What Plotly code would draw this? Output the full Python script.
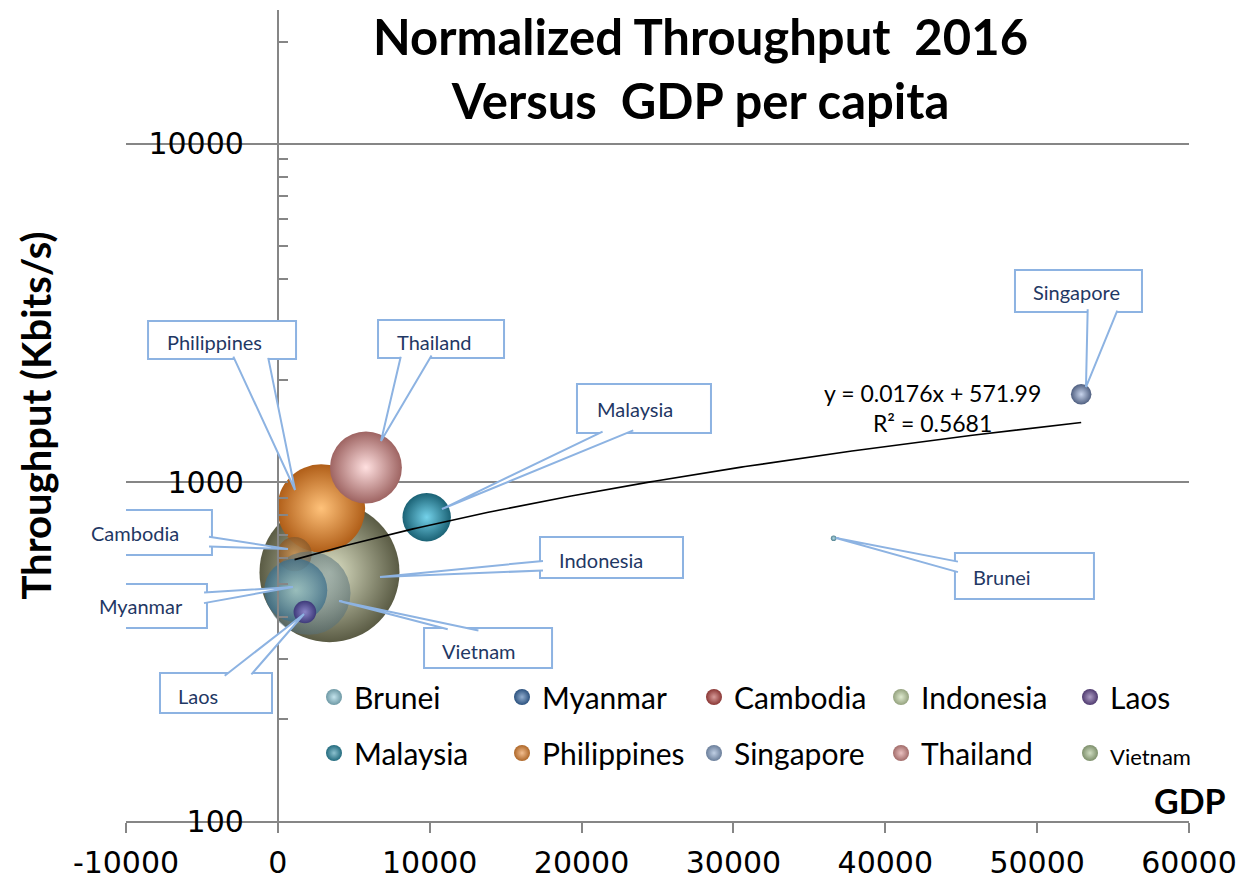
import math
import numpy as np
import plotly.graph_objects as go

# ---------------- data ----------------
countries = ["Brunei", "Myanmar", "Cambodia", "Indonesia", "Laos",
             "Malaysia", "Philippines", "Singapore", "Thailand", "Vietnam"]
gdp_per_capita = [36600, 1180, 1100, 3400, 1780, 9800, 2850, 52900, 5800, 2040]
throughput_kbps = [684, 480, 614, 543, 414, 789, 838, 1820, 1107, 471]
population_m = [0.42, 52.9, 15.8, 261.1, 6.8, 31.2, 103.3, 5.6, 68.9, 92.7]

trend_slope = 0.0176
trend_intercept = 571.99
trend_r2 = 0.5681

x_tick_values = [-10000, 0, 10000, 20000, 30000, 40000, 50000, 60000]
x_tick_labels = ["-10000", "0", "10000", "20000", "30000", "40000", "50000", "60000"]
y_tick_values = [100, 1000, 10000]
y_tick_labels = ["100", "1000", "10000"]
y_minor_ticks = [200, 300, 400, 500, 600, 700, 800, 900,
                 2000, 3000, 4000, 5000, 6000, 7000, 8000, 9000, 20000]

# ---------------- styles ----------------
legend_color = {
    "Brunei": "#93CDDD", "Myanmar": "#3A6DA8", "Cambodia": "#B84A47",
    "Indonesia": "#C6D9A8", "Laos": "#6A4E95", "Malaysia": "#2F8FA8",
    "Philippines": "#E88A36", "Singapore": "#8EA8CE", "Thailand": "#D9908E",
    "Vietnam": "#A8C090",
}
bubble_edge = {
    "Brunei": "#4E7F8E", "Myanmar": "#3C6E8A", "Cambodia": "#8A5A2A",
    "Indonesia": "#5A5B44", "Laos": "#3E3A7A", "Malaysia": "#1B6275",
    "Philippines": "#B05E18", "Singapore": "#4F5F80", "Thailand": "#9E6462",
    "Vietnam": "#56707A",
}
bubble_center = {
    "Brunei": "#B6DDE8", "Myanmar": "#9CC8C8", "Cambodia": "#C89050",
    "Indonesia": "#E0E4C8", "Laos": "#8A86C8", "Malaysia": "#74D2EA",
    "Philippines": "#FFC27A", "Singapore": "#C8D4EC", "Thailand": "#FFE0E0",
    "Vietnam": "#A0B6BA",
}
bubble_opacity = {
    "Brunei": 1, "Myanmar": 0.75, "Cambodia": 0.85, "Indonesia": 1, "Laos": 1,
    "Malaysia": 1, "Philippines": 1, "Singapore": 1, "Thailand": 1, "Vietnam": 0.55,
}
draw_order = ["Indonesia", "Philippines", "Thailand", "Cambodia", "Vietnam",
              "Myanmar", "Malaysia", "Laos", "Singapore", "Brunei"]

FONT = "Lato"
TICK_FONT = "DejaVu Sans"
AXIS_GRAY = "#868686"
CALLOUT_LINE = "#8DB3E2"
CALLOUT_TEXT = "#1F3864"

# page has an 8px body margin: figure sized so that it fills the 1247x885 window
PAGE = 8
W, H = 1247 - PAGE, 885 - PAGE
ML, MR, MT, MB = 126 - PAGE, 58, 10 - PAGE, 64
X_RANGE = [-10000, 60000]
Y_RANGE = [2, 4.395]
PW, PH = W - ML - MR, H - MT - MB

idx = {c: i for i, c in enumerate(countries)}


def to_px(xv, yv):
    px = ML + (xv - X_RANGE[0]) / (X_RANGE[1] - X_RANGE[0]) * PW
    py = MT + (Y_RANGE[1] - math.log10(yv)) / (Y_RANGE[1] - Y_RANGE[0]) * PH
    return px, py


def paper_x(page_x):
    return (page_x - PAGE - ML) / PW


def paper_y(page_y):
    return (MT + PH - (page_y - PAGE)) / PH


def lighten(hex_color, f):
    h = hex_color.lstrip("#")
    r, g, b = (int(h[i:i + 2], 16) for i in (0, 2, 4))
    r, g, b = (int(v + (255 - v) * f) for v in (r, g, b))
    return f"#{r:02X}{g:02X}{b:02X}"


def darken(hex_color, f):
    h = hex_color.lstrip("#")
    r, g, b = (int(h[i:i + 2], 16) for i in (0, 2, 4))
    r, g, b = (int(v * (1 - f)) for v in (r, g, b))
    return f"#{r:02X}{g:02X}{b:02X}"


fig = go.Figure()

max_diameter = 140
sizeref = 2 * max(population_m) / max_diameter ** 2

for c in draw_order:
    i = idx[c]
    fig.add_trace(go.Scatter(
        x=[gdp_per_capita[i]], y=[throughput_kbps[i]], mode="markers",
        name=c, showlegend=False,
        marker=dict(size=[population_m[i]], sizemode="area", sizeref=sizeref,
                    color=bubble_edge[c], opacity=bubble_opacity[c],
                    gradient=dict(type="radial", color=bubble_center[c]),
                    line=dict(width=0)),
        hovertemplate=c + "<br>GDP %{x}<br>Throughput %{y}<extra></extra>",
    ))

# trendline from the stated linear fit
x_line = np.linspace(min(gdp_per_capita), max(gdp_per_capita), 200)
y_line = trend_slope * x_line + trend_intercept
fig.add_trace(go.Scatter(x=x_line, y=y_line, mode="lines", showlegend=False,
                         line=dict(color="black", width=1.6), hoverinfo="skip"))

# legend entries: 5 columns x 2 rows
legend_names = ["legend", "legend2", "legend3", "legend4", "legend5"]
for k, c in enumerate(countries):
    label = c if c != "Vietnam" else '<span style="font-size:22px">Vietnam</span>'
    fig.add_trace(go.Scatter(
        x=[None], y=[None], mode="markers", name=label,
        legend=legend_names[k % 5], legendgroup=c,
        marker=dict(size=17, color=darken(legend_color[c], 0.25),
                    gradient=dict(type="radial", color=lighten(legend_color[c], 0.45)),
                    line=dict(width=0)),
    ))

legend_marker_x = [333, 521, 713, 900, 1089]   # page pixels of the legend columns
legend_row1_y = 698
legend_font = 30
legend_layouts = {}
for n, name in enumerate(legend_names):
    legend_layouts[name] = dict(
        orientation="v", traceorder="grouped", tracegroupgap=14,
        x=paper_x(legend_marker_x[n] - 19), y=paper_y(legend_row1_y - 27),
        xanchor="left", yanchor="top", bgcolor="rgba(0,0,0,0)", borderwidth=0,
        font=dict(family=FONT, size=legend_font, color="black"))

# ---------------- callouts ----------------
callouts = {
    "Philippines": dict(box=(148, 321, 296, 359), text=(214, 342), base=((235, 359), (271, 359)), tip=(295, 490)),
    "Thailand": dict(box=(378, 320, 504, 358), text=(435, 342), base=((398, 358), (430, 358)), tip=(381, 441)),
    "Malaysia": dict(box=(577, 384, 711, 433), text=(635, 409), base=((600, 433), (632, 433)), tip=(442, 509)),
    "Singapore": dict(box=(1015, 270, 1142, 312), text=(1077, 292), base=((1089, 312), (1120, 312)), tip=(1086, 387)),
    "Brunei": dict(box=(955, 553, 1094, 599), text=(1002, 577), base=((955, 561), (955, 572)), tip=(836, 538)),
    "Indonesia": dict(box=(540, 537, 683, 578), text=(601, 560), base=((540, 561), (540, 571)), tip=(380, 577)),
    "Vietnam": dict(box=(424, 628, 552, 668), text=(479, 651), base=((445, 628), (477, 628)), tip=(339, 601)),
    "Cambodia": dict(box=(72, 510, 212, 555), text=(135, 533), base=((212, 537), (212, 547)), tip=(288, 549)),
    "Myanmar": dict(box=(80, 584, 207, 628), text=(141, 606), base=((207, 592), (207, 603)), tip=(293, 587)),
    "Laos": dict(box=(160, 673, 272, 713), text=(198, 696), base=((226, 673), (254, 673)), tip=(304, 614)),
}

shapes = []
annotations = []
for c, co in callouts.items():
    i = idx[c]
    xd, yd = gdp_per_capita[i], throughput_kbps[i]
    cx, cy = to_px(xd, yd)

    def off(p, cx=cx, cy=cy):
        return (p[0] - PAGE) - cx, cy - (p[1] - PAGE)

    x0, y0, x1, y1 = co["box"]
    a, b, cc, d = off((x0, y0)) + off((x1, y1))
    # shapes on a log axis take data values for their anchor; offsets are pixels
    anchor = dict(xref="x", yref="y", xanchor=xd, yanchor=yd,
                  xsizemode="pixel", ysizemode="pixel")
    box_path = f"M {a:.1f},{b:.1f} L {cc:.1f},{b:.1f} L {cc:.1f},{d:.1f} L {a:.1f},{d:.1f} Z"
    shapes.append(dict(type="path", path=box_path,
                       fillcolor="white", line=dict(color=CALLOUT_LINE, width=2),
                       layer="above", **anchor))
    # wedge (base points nudged into the box so its fill hides the border)
    bcx, bcy = (x0 + x1) / 2, (y0 + y1) / 2
    pts = []
    for bp in co["base"]:
        dx, dy = bcx - bp[0], bcy - bp[1]
        n = math.hypot(dx, dy)
        pts.append((bp[0] + 3 * dx / n, bp[1] + 3 * dy / n))
    p1, tp, p2 = off(pts[0]), off(co["tip"]), off(pts[1])
    path = f"M {p1[0]:.1f},{p1[1]:.1f} L {tp[0]:.1f},{tp[1]:.1f} L {p2[0]:.1f},{p2[1]:.1f}"
    shapes.append(dict(type="path", path=path, fillcolor="white",
                       line=dict(color=CALLOUT_LINE, width=2), layer="above", **anchor))
    tx, ty = off(co["text"])
    annotations.append(dict(x=xd, y=math.log10(yd), xref="x", yref="y", text=c,
                            showarrow=False, xshift=tx, yshift=ty,
                            xanchor="center", yanchor="middle",
                            font=dict(family=FONT, size=20, color=CALLOUT_TEXT)))

# title
annotations.append(dict(
    x=paper_x(700), y=paper_y(67.5), xref="paper", yref="paper",
    xanchor="center", yanchor="middle", showarrow=False, align="center",
    text="<b>Normalized Throughput\u00a0\u00a02016<br>Versus\u00a0\u00a0GDP per capita</b>",
    font=dict(family=FONT, size=49, color="black")))
# trendline equation
annotations.append(dict(
    x=paper_x(932), y=paper_y(408), xref="paper", yref="paper",
    xanchor="center", yanchor="middle",
    text=f"y = {trend_slope}x + {trend_intercept}<br>R² = {trend_r2}",
    showarrow=False, align="center", font=dict(family=FONT, size=23, color="black")))
# x-axis title (Excel places it at the right end)
annotations.append(dict(
    x=paper_x(1228), y=paper_y(800), xref="paper", yref="paper",
    xanchor="right", yanchor="middle", text="<b>GDP</b>", showarrow=False,
    font=dict(family=FONT, size=34, color="black")))

fig.update_layout(
    width=W, height=H,
    margin=dict(l=ML, r=MR, t=MT, b=MB),
    paper_bgcolor="white", plot_bgcolor="white",
    xaxis=dict(range=X_RANGE, tickvals=x_tick_values, ticktext=x_tick_labels,
               showgrid=False, zeroline=False, showline=True, linecolor=AXIS_GRAY, linewidth=2,
               ticks="outside", ticklen=10, tickwidth=2, tickcolor=AXIS_GRAY,
               ticklabelstandoff=4,
               tickfont=dict(family=TICK_FONT, size=30, color="black")),
    yaxis=dict(type="log", range=Y_RANGE, anchor="free",
               position=(0 - X_RANGE[0]) / (X_RANGE[1] - X_RANGE[0]),
               tickvals=y_tick_values, ticktext=y_tick_labels,
               showgrid=True, gridcolor=AXIS_GRAY, gridwidth=2, zeroline=False,
               showline=True, linecolor=AXIS_GRAY, linewidth=2,
               ticks="inside", ticklen=9, tickwidth=2, tickcolor=AXIS_GRAY,
               ticklabelstandoff=27,
               minor=dict(tickvals=y_minor_ticks, ticks="inside", ticklen=9,
                          tickwidth=1.5, tickcolor=AXIS_GRAY, showgrid=False),
               tickfont=dict(family=TICK_FONT, size=30, color="black"),
               title=dict(text="<b>Throughput (Kbits/s)</b>", standoff=83,
                          font=dict(family=FONT, size=40, color="black"))),
    shapes=shapes,
    annotations=annotations,
    showlegend=True,
    **legend_layouts,
)

fig.write_html("out.html")
